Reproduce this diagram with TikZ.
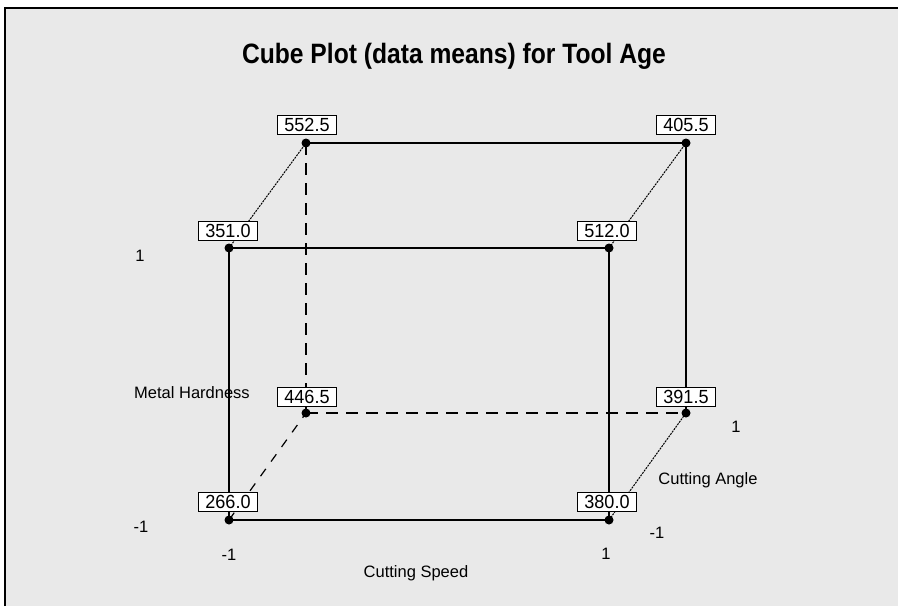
\documentclass[tikz,border=0pt]{standalone}
\usepackage{fontspec}
\setmainfont{Liberation Sans}
\newfontfamily\titlefont{Liberation Sans}[FakeStretch=0.88]
\newfontfamily\numfont{Liberation Sans}[FakeStretch=0.95]
\usetikzlibrary{backgrounds}
\pgfdeclarelayer{bg}
\pgfsetlayers{bg,background,main}
\definecolor{panel}{HTML}{E9E9E9}
\tikzset{
  dot/.style={circle,fill=black,inner sep=0pt,minimum size=9pt},
  valbox/.style={draw=black,line width=1.1pt,fill=white,minimum width=59pt,minimum height=19pt,inner sep=0pt,font=\numfont\fontsize{19}{19}\selectfont},
  edge/.style={line width=1.6pt},
  hidden/.style={line width=1.6pt,dash pattern=on 12pt off 8pt},
  depth/.style={line width=1pt,dash pattern=on 2pt off 1pt},
  depthhid/.style={line width=1.2pt,dash pattern=on 9pt off 9pt},
  lab/.style={inner sep=0pt,font=\fontsize{16.5}{17}\selectfont}
}
\begin{document}
\begin{tikzpicture}[x=1pt,y=-1pt]
\useasboundingbox (0,0) rectangle (898,606);
\begin{pgfonlayer}{bg}
\fill[white] (0,0) rectangle (898,606);
\fill[panel] (5,8) rectangle (898,606);
\draw[line width=2pt,black] (5,606) -- (5,8) -- (898,8);
\end{pgfonlayer}
% title
\node[inner sep=0pt,font=\titlefont\bfseries\fontsize{28}{29}\selectfont] (title) at (454,56) {Cube Plot (data means) for Tool Age};
% cube corner dots
\node[dot] (bfl) at (229,520) {};
\node[dot] (bfr) at (609,520) {};
\node[dot] (tfl) at (229,248) {};
\node[dot] (tfr) at (609,248) {};
\node[dot] (bbl) at (306,413) {};
\node[dot] (bbr) at (686,413) {};
\node[dot] (tbl) at (306,143) {};
\node[dot] (tbr) at (686,143) {};
% edges
\begin{pgfonlayer}{background}
\draw[edge] (tfl.center) -- (tfr.center);
\draw[edge] (tfl.center) -- (bfl.center);
\draw[edge] (tfr.center) -- (bfr.center);
\draw[edge] (bfl.center) -- (bfr.center);
\draw[edge] (tbl.center) -- (tbr.center);
\draw[edge] (tbr.center) -- (bbr.center);
\draw[hidden] (tbl.center) -- (bbl.center);
\draw[hidden] (bbl.center) -- (bbr.center);
\draw[depth] (tfl.center) -- (tbl.center);
\draw[depth] (tfr.center) -- (tbr.center);
\draw[depth] (bfr.center) -- (bbr.center);
\draw[depthhid] (bfl.center) -- (bbl.center);
\end{pgfonlayer}
% value boxes
\node[valbox] (v552) at (307,125) {552.5};
\node[valbox] (v405) at (686,125) {405.5};
\node[valbox] (v351) at (228,231) {351.0};
\node[valbox] (v512) at (607,231) {512.0};
\node[valbox] (v446) at (307,397) {446.5};
\node[valbox] (v391) at (686,397) {391.5};
\node[valbox] (v266) at (228,502) {266.0};
\node[valbox] (v380) at (607,502) {380.0};
% axis labels
\node[lab] (mh) at (192,393) {Metal Hardness};
\node[lab] (mhp) at (140,256) {1};
\node[lab] (mhm) at (141,527) {-1};
\node[lab] (csm) at (229,555) {-1};
\node[lab] (csp) at (606,554) {1};
\node[lab] (cs) at (416,573) {Cutting Speed};
\node[lab] (cam) at (657,533) {-1};
\node[lab] (cap) at (736,427) {1};
\node[lab] (ca) at (708,480) {Cutting Angle};
\end{tikzpicture}
\end{document}
